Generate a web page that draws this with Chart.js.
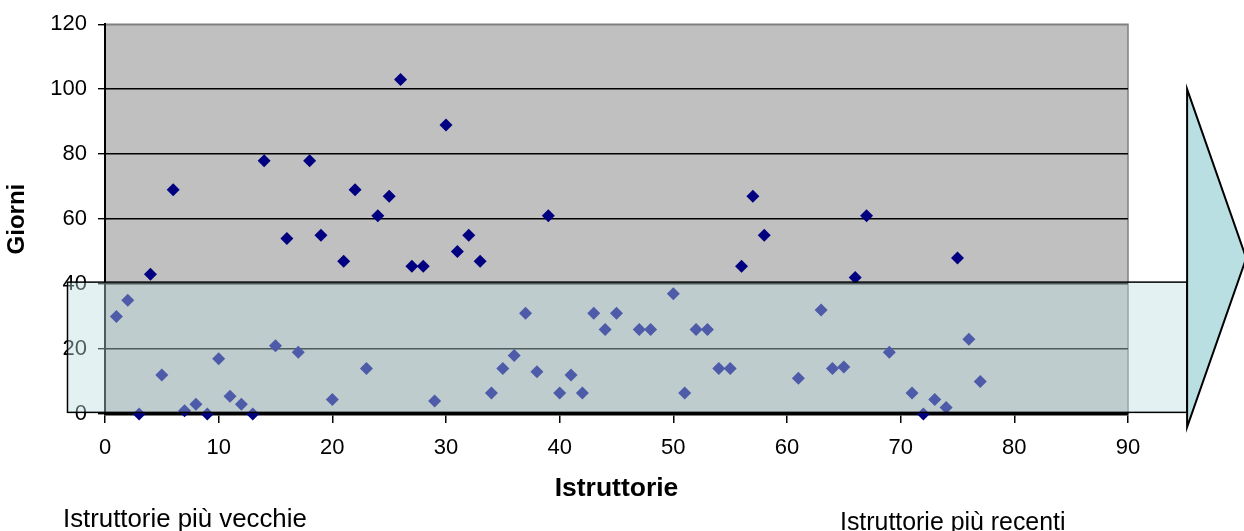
<!DOCTYPE html>
<html>
<head>
<meta charset="utf-8">
<script src="https://cdn.jsdelivr.net/npm/chart.js@4.4.1/dist/chart.umd.min.js"></script>
<style>
    html, body { margin: 0; padding: 0; background: #ffffff; }
    #wrap { position: relative; width: 1244px; height: 531px; }
</style>
</head>
<body>
<div id="wrap"><canvas id="chart"></canvas></div>
<script>
// Istruttorie (position) and Giorni (days)
const istruttorie = [1,2,3,4,5,6,7,8,9,10,11,12,13,14,15,16,17,18,19,20,
    21,22,23,24,25,26,27,28,29,30,31,32,33,34,35,36,37,38,39,40,
    41,42,43,44,45,47,48,50,51,52,53,54,55,56,57,58,61,63,64,65,66,67,
    69,71,72,73,74,75,76,77];
const giorni = [30,35,0,43,12,69,1,3,0,17,
    5.5,3,0,78,21,54,19,78,55,4.5,
    47,69,14,61,67,103,45.5,45.5,4,89,
    50,55,47,6.5,14,18,31,13,61,6.5,
    12,6.5,31,26,31,26,26,37,6.5,26,26,14,14,45.5,67,55,
    11,32,14,14.5,42,61,
    19,6.5,0,4.5,2,48,23,10];

const xTicks = [0,10,20,30,40,50,60,70,80,90];
const yTicks = [0,20,40,60,80,100,120];

// threshold band (giorni 0-40) and the arrow pointing to the recent ones, in data units
const bandDays = [0.5, 40.6];
const bandSpan = [-3.3, 95.2];
const arrowX = [95.2, 100.4];
const arrowDays = [-4, 48, 100];

const FONT = "'Liberation Sans', Arial, sans-serif";

const points = istruttorie.map((x, i) => ({ x: x, y: giorni[i] }));

// gray plot area + gray top/right frame
const plotBackground = {
    id: 'plotBackground',
    beforeDraw(chart) {
        const { ctx, chartArea: a } = chart;
        ctx.save();
        ctx.fillStyle = '#c0c0c0';
        ctx.fillRect(a.left, a.top, a.right - a.left, a.bottom - a.top);
        ctx.strokeStyle = '#808080';
        ctx.lineWidth = 1.5;
        ctx.beginPath();
        ctx.moveTo(a.left, a.top);
        ctx.lineTo(a.right, a.top);
        ctx.lineTo(a.right, a.bottom);
        ctx.stroke();
        ctx.restore();
    }
};

// translucent band, arrow head and the two captions
const bandArrow = {
    id: 'bandArrow',
    afterDraw(chart) {
        const { ctx } = chart;
        const xs = chart.scales.x, ys = chart.scales.y;
        const x1 = xs.getPixelForValue(bandSpan[0]);
        const x2 = xs.getPixelForValue(bandSpan[1]);
        const yTop = ys.getPixelForValue(bandDays[1]);
        const yBot = ys.getPixelForValue(bandDays[0]);
        ctx.save();
        ctx.fillStyle = 'rgba(187, 221, 226, 0.41)';
        ctx.fillRect(x1, yTop, x2 - x1, yBot - yTop);
        ctx.strokeStyle = '#000000';
        ctx.lineWidth = 1.5;
        ctx.strokeRect(x1, yTop, x2 - x1, yBot - yTop);

        const ax = xs.getPixelForValue(arrowX[0]);
        const tip = xs.getPixelForValue(arrowX[1]);
        ctx.beginPath();
        ctx.moveTo(ax, ys.getPixelForValue(arrowDays[2]));
        ctx.lineTo(tip, ys.getPixelForValue(arrowDays[1]));
        ctx.lineTo(ax, ys.getPixelForValue(arrowDays[0]));
        ctx.closePath();
        ctx.fillStyle = '#b9dfe3';
        ctx.fill();
        ctx.lineWidth = 2;
        ctx.stroke();

        ctx.fillStyle = '#000000';
        ctx.textBaseline = 'alphabetic';
        ctx.textAlign = 'left';
        ctx.font = '25.8px ' + FONT;
        ctx.fillText('Istruttorie più vecchie', 63, 527);
        ctx.font = '24.9px ' + FONT;
        ctx.fillText('Istruttorie più recenti', 840, 530);
        ctx.restore();
    }
};

new Chart(document.getElementById('chart'), {
    type: 'scatter',
    data: {
        datasets: [{
            data: points,
            pointStyle: 'rectRot',
            pointRadius: 6.5,
            pointHoverRadius: 6.5,
            backgroundColor: '#000080',
            borderWidth: 0,
            clip: false
        }]
    },
    options: {
        responsive: true,
        maintainAspectRatio: false,
        animation: false,
        events: [],
        layout: { padding: { left: 0, top: 21, right: 116, bottom: 0 } },
        plugins: {
            legend: { display: false },
            tooltip: { enabled: false }
        },
        scales: {
            x: {
                type: 'linear',
                min: 0,
                max: 90,
                afterFit(scale) { scale.height = 117; },
                afterBuildTicks(scale) { scale.ticks = xTicks.map(v => ({ value: v })); },
                grid: {
                    drawOnChartArea: false,
                    drawTicks: true,
                    tickLength: 9,
                    tickColor: '#000000',
                    lineWidth: 1.5
                },
                border: { display: true, color: '#000000', width: 2.5 },
                ticks: {
                    color: '#000000',
                    padding: 12,
                    maxRotation: 0,
                    font: { family: FONT, size: 22 }
                },
                title: {
                    display: true,
                    text: 'Istruttorie',
                    color: '#000000',
                    font: { family: FONT, size: 26.5, weight: 'bold' },
                    padding: { top: 0, bottom: 26 }
                }
            },
            y: {
                type: 'linear',
                min: 0,
                max: 120,
                afterFit(scale) { scale.width = 105; },
                afterBuildTicks(scale) { scale.ticks = yTicks.map(v => ({ value: v })); },
                grid: {
                    color: ctx => ctx.tick && ctx.tick.value === 120 ? '#808080' : '#000000',
                    lineWidth: 1.4,
                    drawTicks: true,
                    tickLength: 7,
                    tickColor: '#000000'
                },
                border: { display: true, color: '#000000', width: 2 },
                ticks: {
                    color: '#000000',
                    padding: 11,
                    font: { family: FONT, size: 22 }
                },
                title: {
                    display: true,
                    text: 'Giorni',
                    color: '#000000',
                    font: { family: FONT, size: 24, weight: 'bold' },
                    padding: { top: 3, bottom: 0 }
                }
            }
        }
    },
    plugins: [plotBackground, bandArrow]
});
</script>
</body>
</html>
